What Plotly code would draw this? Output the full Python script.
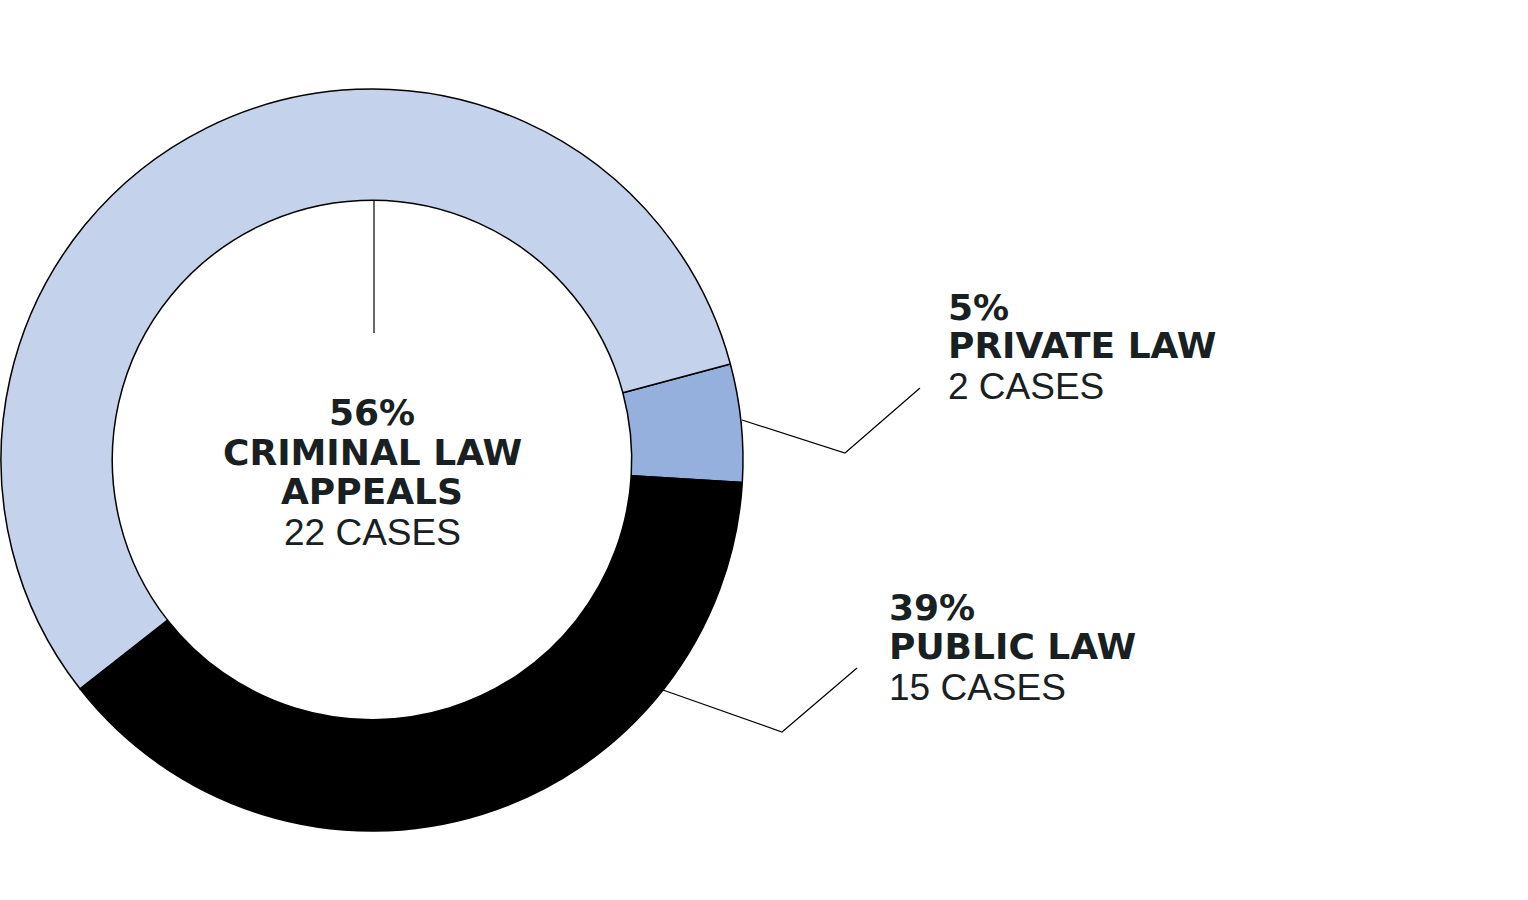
import plotly.graph_objects as go

# Case counts by type of law
categories = ["PRIVATE LAW", "PUBLIC LAW", "CRIMINAL LAW APPEALS"]
cases = [2, 15, 22]
percent_labels = ["5%", "39%", "56%"]
case_labels = ["2 CASES", "15 CASES", "22 CASES"]
colors = ["#95b0dc", "#000000", "#c5d2eb"]

W, H = 1528, 900
ink = "#182022"
bold_font = dict(family="DejaVu Sans", size=36, color=ink, weight="bold")
reg_font = dict(family="Liberation Sans", size=37, color=ink)


def px(x):
    return x / W


def py(y):
    return 1 - y / H


fig = go.Figure()

fig.add_trace(go.Pie(
    labels=categories,
    values=cases,
    hole=0.70,
    sort=False,
    direction="clockwise",
    rotation=75,
    marker=dict(colors=colors, line=dict(color="#000000", width=1.5)),
    textinfo="none",
    hoverinfo="skip",
    showlegend=False,
    domain=dict(x=[px(1), px(743)], y=[py(831), py(89)]),
))

annotations = []


def add_label(x, ys, lines, anchor):
    for y, (txt, font) in zip(ys, lines):
        annotations.append(dict(
            x=px(x), y=py(y), xref="paper", yref="paper",
            text=txt, showarrow=False, xanchor=anchor, yanchor="middle",
            font=font,
        ))


# centre label (criminal law)
add_label(372, [412, 452, 491, 532], [
    (percent_labels[2], bold_font),
    ("CRIMINAL LAW", bold_font),
    ("APPEALS", bold_font),
    (case_labels[2], reg_font),
], "center")

# private law
add_label(946, [307, 345, 387], [
    (percent_labels[0], bold_font),
    (categories[0], bold_font),
    (case_labels[0], reg_font),
], "left")

# public law
add_label(887, [607, 646, 687], [
    (percent_labels[1], bold_font),
    (categories[1], bold_font),
    (case_labels[1], reg_font),
], "left")

fig.update_layout(annotations=annotations)

# leader lines
leaders = [
    [(742, 420), (845, 453), (920, 388)],
    [(663, 690), (782, 732), (857, 668)],
    [(374, 200), (374, 333)],
]
for pts in leaders:
    path = "M " + " L ".join(f"{px(x)},{py(y)}" for x, y in pts)
    fig.add_shape(type="path", path=path, xref="paper", yref="paper",
                  line=dict(color="#000000", width=1.2))

fig.update_layout(
    width=W,
    height=H,
    margin=dict(l=0, r=0, t=0, b=0),
    paper_bgcolor="#ffffff",
    plot_bgcolor="#ffffff",
)

# drop the page's default body margin so the figure sits at the top-left corner
fig.write_html("out.html", config={"displayModeBar": False},
               post_script="document.body.style.margin = '0';")
